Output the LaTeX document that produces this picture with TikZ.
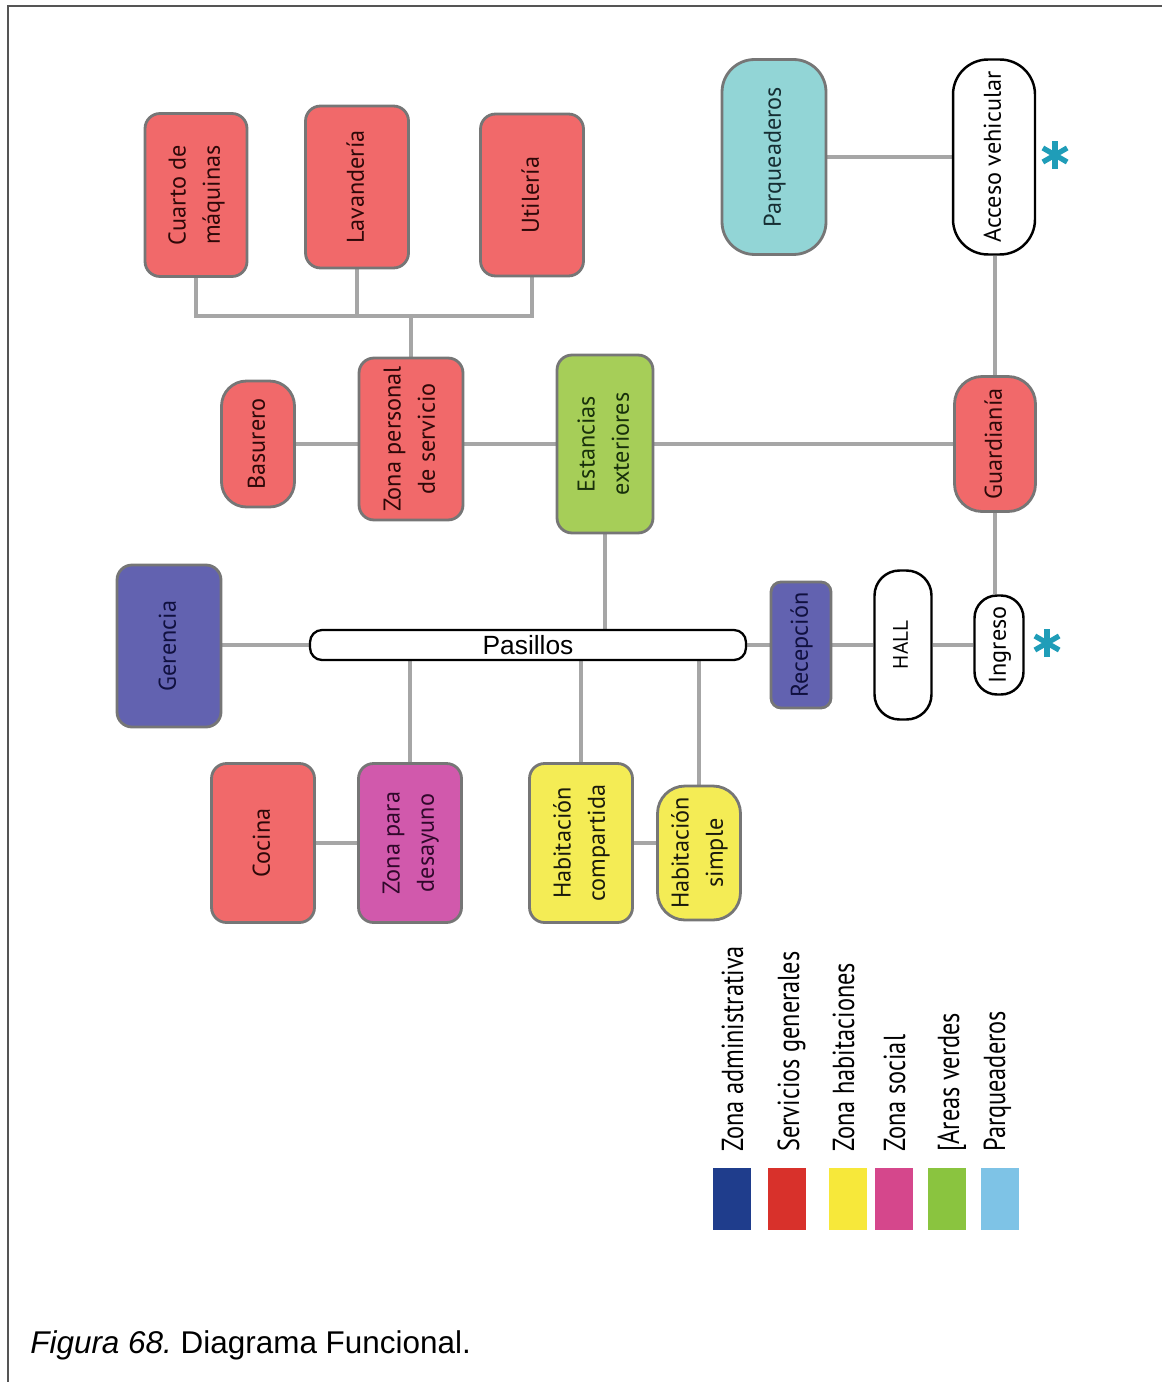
\documentclass[tikz,border=0pt]{standalone}
\usepackage{fontspec}
\usepackage{graphicx}
\usetikzlibrary{backgrounds}
\usepackage{xcolor}
\newfontfamily\boxfont{PT Sans}
\newfontfamily\legendfont[FakeStretch=0.8]{PT Sans}
\newfontfamily\captionfont{Liberation Sans}
\definecolor{ServRed}{HTML}{F1696A}
\definecolor{ServText}{HTML}{2E0808}
\definecolor{AdminBlue}{HTML}{6262B0}
\definecolor{AdminText}{HTML}{10103F}
\definecolor{SocialPink}{HTML}{D159AC}
\definecolor{SocialText}{HTML}{30082B}
\definecolor{RoomYellow}{HTML}{F4EC55}
\definecolor{RoomText}{HTML}{1A1A0C}
\definecolor{GreenArea}{HTML}{A6CE58}
\definecolor{GreenText}{HTML}{18300B}
\definecolor{ParkCyan}{HTML}{92D5D6}
\definecolor{ParkText}{HTML}{162E33}
\definecolor{BoxGray}{HTML}{767676}
\definecolor{LinkGray}{HTML}{A6A6A6}
\definecolor{StarTeal}{HTML}{1F9DB8}
\definecolor{FrameGray}{HTML}{555555}
\definecolor{LegAdmin}{HTML}{1F3D8C}
\definecolor{LegServ}{HTML}{D8312B}
\definecolor{LegRoom}{HTML}{F7E83A}
\definecolor{LegSocial}{HTML}{D5478C}
\definecolor{LegGreen}{HTML}{8AC43F}
\definecolor{LegPark}{HTML}{7EC3E6}
\newcommand{\vlabel}[1]{\rotatebox{90}{\begin{tabular}{@{}c@{}}#1\end{tabular}}}
\frenchspacing
\tikzset{
    % Box styles
    zonebox/.style={
        rectangle,
        rounded corners=0.3cm,
        draw=BoxGray,
        line width=1.6pt,
        inner sep=0pt,
        font=\boxfont\fontsize{13.8}{19.5}\selectfont
    },
    servicio/.style={zonebox, fill=ServRed, text=ServText},
    admin/.style={zonebox, fill=AdminBlue, text=AdminText},
    social/.style={zonebox, fill=SocialPink, text=SocialText},
    room/.style={zonebox, fill=RoomYellow, text=RoomText},
    green/.style={zonebox, fill=GreenArea, text=GreenText},
    parking/.style={zonebox, fill=ParkCyan, text=ParkText},
    openbox/.style={
        zonebox,
        draw=black,
        fill=white,
        line width=1.4pt,
        text=black
    },
    % Lines
    link/.style={
        draw=LinkGray,
        line width=1.9pt
    },
    frame/.style={
        draw=FrameGray,
        line width=0.8pt
    },
    asterisk/.style={
        draw=StarTeal,
        line width=3pt
    },
    legendtext/.style={
        rotate=90,
        anchor=base west,
        inner sep=0pt,
        font=\legendfont\fontsize{17.3}{20}\selectfont
    }
}

\begin{document}
\begin{tikzpicture}[x=0.02cm, y=-0.02cm]
    \useasboundingbox (0,0) rectangle (1162,1382);
    \draw[frame] (8,1382) -- (8,6) -- (1162,6);

    % Servicios
    \node[servicio, minimum width=2.04cm, minimum height=3.26cm] (cuarto) at (196,195) {\vlabel{Cuarto de\\máquinas}};
    \node[servicio, minimum width=2.06cm, minimum height=3.24cm] (lavanderia) at (357,187) {\vlabel{Lavandería}};
    \node[servicio, minimum width=2.06cm, minimum height=3.24cm] (utileria) at (532,195) {\vlabel{Utilería}};
    \node[servicio, minimum width=1.46cm, minimum height=2.52cm, rounded corners=0.5cm] (basurero) at (258,444) {\vlabel{Basurero}};
    \node[servicio, minimum width=2.08cm, minimum height=3.24cm] (zonapers) at (411,439) {\vlabel{Zona personal\\de servicio}};
    \node[green, minimum width=1.92cm, minimum height=3.56cm] (estancias) at (605,444) {\vlabel{Estancias\\exteriores}};
    \node[servicio, minimum width=1.62cm, minimum height=2.7cm, rounded corners=0.55cm] (guardiania) at (995,444) {\vlabel{Guardianía}};

    % Parqueaderos
    \node[parking, minimum width=2.08cm, minimum height=3.9cm, rounded corners=0.65cm] (parqueaderos) at (774,157) {\vlabel{Parqueaderos}};
    \node[openbox, minimum width=1.64cm, minimum height=3.9cm, rounded corners=0.7cm] (acceso) at (994,157) {\vlabel{Acceso vehicular}};

    % Pasillos
    \node[openbox, minimum width=8.72cm, minimum height=0.6cm, rounded corners=0.24cm, line width=1.3pt,
          font=\captionfont\fontsize{15}{16}\selectfont] (pasillos) at (528,645) {Pasillos};
    \node[admin, minimum width=2.08cm, minimum height=3.24cm] (gerencia) at (169,646) {\vlabel{Gerencia}};
    \node[admin, minimum width=1.2cm, minimum height=2.52cm, rounded corners=0.2cm] (recepcion) at (801,645) {\vlabel{Recepción}};
    \node[openbox, minimum width=1.14cm, minimum height=2.98cm, rounded corners=0.5cm,
          font=\boxfont\fontsize{12}{14}\selectfont] (hall) at (903,645) {\vlabel{HALL}};
    \node[openbox, minimum width=0.98cm, minimum height=1.98cm, rounded corners=0.45cm] (ingreso) at (999,645) {\vlabel{Ingreso}};

    % Zona social y habitaciones
    \node[servicio, minimum width=2.06cm, minimum height=3.18cm] (cocina) at (263,843) {\vlabel{Cocina}};
    \node[social, minimum width=2.06cm, minimum height=3.18cm] (desayuno) at (410,843) {\vlabel{Zona para\\desayuno}};
    \node[room, minimum width=2.06cm, minimum height=3.18cm] (hcomp) at (581,843) {\vlabel{Habitación\\compartida}};
    \node[room, minimum width=1.66cm, minimum height=2.68cm, rounded corners=0.55cm] (hsimple) at (699,853) {\vlabel{Habitación\\simple}};

    % Conexiones
    \begin{scope}[on background layer]
        \coordinate (srvbus) at (411,316);
        \draw[link] (cuarto.south) |- (srvbus) -| (utileria.south);
        \draw[link] (lavanderia.south) -- (lavanderia.south |- srvbus);
        \draw[link] (zonapers.north) -- (srvbus);
        \draw[link] (basurero.east) -- (basurero.east -| zonapers.west);
        \draw[link] (estancias.west) -- (estancias.west -| zonapers.east);
        \draw[link] (estancias.east) -- (guardiania.west);
        \draw[link] (parqueaderos.east) -- (acceso.west);
        \draw[link] (guardiania.north) -- (guardiania.north |- acceso.south);
        \draw[link] (guardiania.south) -- (guardiania.south |- ingreso.north);
        \draw[link] (estancias.south) -- (estancias.south |- pasillos.north);
        \draw[link] (pasillos.west) -- (pasillos.west -| gerencia.east);
        \draw[link] (pasillos.east) -- (recepcion.west);
        \draw[link] (recepcion.east) -- (hall.west);
        \draw[link] (hall.east) -- (ingreso.west);
        \draw[link] (desayuno.north) -- (desayuno.north |- pasillos.south);
        \draw[link] (hcomp.north) -- (hcomp.north |- pasillos.south);
        \draw[link] (hsimple.north) -- (hsimple.north |- pasillos.south);
        \draw[link] (cocina.east) -- (cocina.east -| desayuno.west);
        \draw[link] (hcomp.east) -- (hcomp.east -| hsimple.west);
    \end{scope}

    % Accesos
    \foreach \a in {90,30,150} {
        \draw[asterisk] (1055,155) ++(\a:14) -- ++(\a:-28);
        \draw[asterisk] (1047,643) ++(\a:14) -- ++(\a:-28);
    }

    % Leyenda
    \foreach \x/\c in {713/LegAdmin, 768/LegServ, 829/LegRoom, 875/LegSocial, 928/LegGreen, 981/LegPark}
        \fill[\c] (\x,1168) rectangle ++(38,62);
    \foreach \x/\t [count=\i] in {743/Zona administrativa, 799/Servicios generales, 854/Zona habitaciones,
                                 905/Zona social, 959/{[Areas verdes}, 1005/Parqueaderos}
        \node[legendtext] (leyenda\i) at (\x,1152) {\t};

    \node[anchor=base west, inner sep=0pt, font=\captionfont\fontsize{17.9}{20}\selectfont] (caption) at (30,1353)
        {\textit{Figura 68.} Diagrama Funcional.};
\end{tikzpicture}
\end{document}
